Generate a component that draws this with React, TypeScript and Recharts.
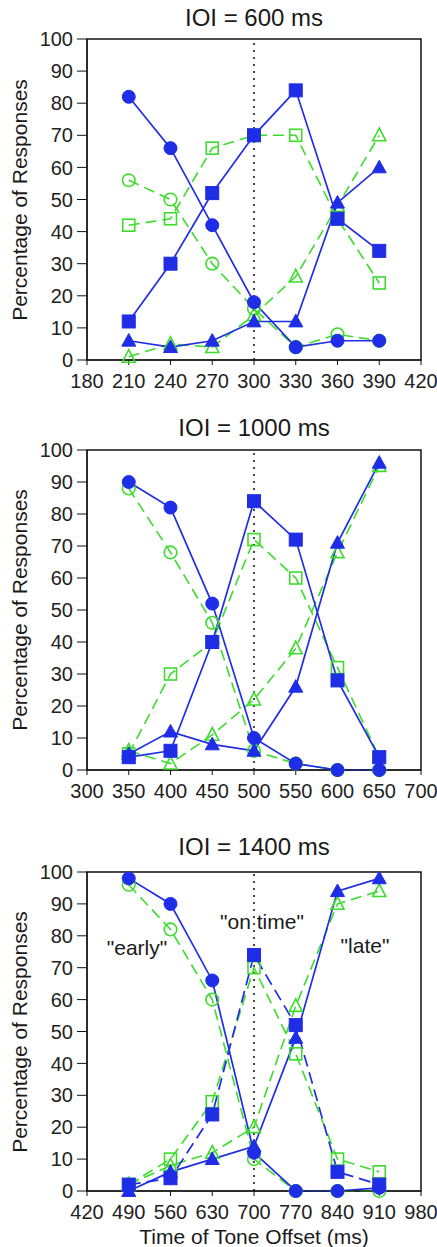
import React from 'react'
import { LineChart, Line, XAxis, YAxis, ReferenceLine, ReferenceArea } from 'recharts'

const BLUE = '#1f2de6'
const GREEN = '#3cdc2c'
const FONT = '"Liberation Sans", Arial, sans-serif'

const yTicks = [0, 10, 20, 30, 40, 50, 60, 70, 80, 90, 100]

// IOI = 600 ms
const offsets600 = [210, 240, 270, 300, 330, 360, 390]
const xTicks600 = [180, 210, 240, 270, 300, 330, 360, 390, 420]
const early600 = [82, 66, 42, 18, 4, 6, 6]
const onTime600 = [12, 30, 52, 70, 84, 44, 34]
const late600 = [6, 4, 6, 12, 12, 49, 60]
const early600Open = [56, 50, 30, 16, 4, 8, 6]
const onTime600Open = [42, 44, 66, 70, 70, 44, 24]
const late600Open = [1, 5, 4, 14, 26, 48, 70]

// IOI = 1000 ms
const offsets1000 = [350, 400, 450, 500, 550, 600, 650]
const xTicks1000 = [300, 350, 400, 450, 500, 550, 600, 650, 700]
const early1000 = [90, 82, 52, 10, 2, 0, 0]
const onTime1000 = [4, 6, 40, 84, 72, 28, 4]
const late1000 = [5, 12, 8, 6, 26, 71, 96]
const early1000Open = [88, 68, 46, 6, 2, 0, 0]
const onTime1000Open = [5, 30, 40, 72, 60, 32, 4]
const late1000Open = [6, 2, 11, 22, 38, 68, 95]

// IOI = 1400 ms
const offsets1400 = [490, 560, 630, 700, 770, 840, 910]
const xTicks1400 = [420, 490, 560, 630, 700, 770, 840, 910, 980]
const early1400 = [98, 90, 66, 12, 0, 0, 1]
const onTime1400 = [2, 4, 24, 74, 52, 6, 2]
const late1400 = [0, 6, 10, 14, 48, 94, 98]
const early1400Open = [96, 82, 60, 10, 0, 0, 0]
const onTime1400Open = [2, 10, 28, 70, 43, 10, 6]
const late1400Open = [2, 8, 12, 20, 58, 90, 94]

type Shape = 'circle' | 'square' | 'triangle'
type Series = { key: string; values: number[]; shape: Shape; open: boolean; dash?: string }

const makeDot = (shape: Shape, open: boolean) => (props: any) => {
  const { cx, cy, index } = props
  const color = open ? GREEN : BLUE
  const fill = open ? 'none' : color
  const sw = open ? 1.6 : 1
  const k = `d-${index}`
  if (cx == null || cy == null) return <g key={k} />
  if (shape === 'circle') {
    const r = open ? 6.3 : 6.5
    return <circle key={k} cx={cx} cy={cy} r={r} fill={fill} stroke={color} strokeWidth={sw} />
  }
  if (shape === 'square') {
    const s = open ? 12 : 13
    return <rect key={k} x={cx - s / 2} y={cy - s / 2} width={s} height={s} fill={fill} stroke={color} strokeWidth={sw} />
  }
  const h = open ? 12 : 12
  const w = open ? 13 : 14
  const pts = `${cx},${cy - h * 0.6} ${cx - w / 2},${cy + h * 0.45} ${cx + w / 2},${cy + h * 0.45}`
  return <polygon key={k} points={pts} fill={fill} stroke={color} strokeWidth={sw} />
}

interface PanelProps {
  top: number
  height: number
  marginTop: number
  marginBottom: number
  title: string
  titleY: number
  offsets: number[]
  xTicks: number[]
  center: number
  series: Series[]
}

const Panel: React.FC<PanelProps> = ({ top, height, marginTop, marginBottom, title, titleY, offsets, xTicks, center, series }) => {
  const rows = offsets.map((x, i) => {
    const row: Record<string, number> = { x }
    series.forEach((s) => {
      row[s.key] = s.values[i]
    })
    return row
  })
  const plotTop = marginTop
  const plotBottom = height - marginBottom - 35
  const labelY = (plotTop + plotBottom) / 2
  return (
    <div style={{ position: 'absolute', left: 0, top, width: 437, height }}>
      <div
        style={{
          position: 'absolute', left: 54, width: 400, top: titleY - top - 12, height: 24,
          lineHeight: '24px', fontSize: 24, textAlign: 'center', fontFamily: FONT, color: '#1a1a1a',
        }}
      >
        {title}
      </div>
      <div
        style={{
          position: 'absolute', left: 20 - 150, width: 300, top: labelY - 12, height: 24,
          lineHeight: '24px', fontSize: 21, textAlign: 'center', fontFamily: FONT, color: '#1a1a1a',
          transform: 'rotate(-90deg)',
        }}
      >
        Percentage of Responses
      </div>
      <LineChart
        width={437}
        height={height}
        data={rows}
        margin={{ top: marginTop, right: 16, left: 0, bottom: marginBottom }}
        style={{ position: 'absolute', left: 0, top: 0 }}
      >
        <XAxis
          dataKey="x"
          type="number"
          domain={[xTicks[0], xTicks[xTicks.length - 1]]}
          ticks={xTicks}
          interval={0}
          height={35}
          tickSize={5}
          tickMargin={9}
          stroke="#111"
          tick={{ fill: '#222', fontSize: 20, fontFamily: FONT }}
        />
        <YAxis
          type="number"
          domain={[0, 100]}
          ticks={yTicks}
          interval={0}
          width={87}
          tickSize={10}
          tickMargin={4}
          stroke="#111"
          tick={{ fill: '#222', fontSize: 20, fontFamily: FONT }}
        />
        <ReferenceArea
          x1={xTicks[0]}
          x2={xTicks[xTicks.length - 1]}
          y1={0}
          y2={100}
          fill="none"
          fillOpacity={0}
          stroke="#111"
          strokeWidth={1.5}
        />
        <ReferenceLine x={center} stroke="#333" strokeWidth={1.8} strokeDasharray="2 5" />
        {series.map((s) => (
          <Line
            key={s.key}
            dataKey={s.key}
            type="linear"
            stroke={s.open ? GREEN : BLUE}
            strokeWidth={s.open ? 1.6 : 1.7}
            strokeDasharray={s.dash}
            dot={makeDot(s.shape, s.open)}
            activeDot={false}
            isAnimationActive={false}
          />
        ))}
      </LineChart>
    </div>
  )
}

const build = (
  e: number[], o: number[], l: number[], eo: number[], oo: number[], lo: number[], blueSquareDash?: string,
): Series[] => [
  { key: 'earlyOpen', values: eo, shape: 'circle', open: true, dash: '11 6' },
  { key: 'onTimeOpen', values: oo, shape: 'square', open: true, dash: '11 6' },
  { key: 'lateOpen', values: lo, shape: 'triangle', open: true, dash: '11 6' },
  { key: 'early', values: e, shape: 'circle', open: false },
  { key: 'onTime', values: o, shape: 'square', open: false, dash: blueSquareDash },
  { key: 'late', values: l, shape: 'triangle', open: false },
]

const textStyle: React.CSSProperties = {
  position: 'absolute', height: 24, lineHeight: '24px', fontSize: 21, fontFamily: FONT,
  color: '#1a1a1a', textAlign: 'center', width: 160,
}

export default function App() {
  return (
    <div style={{ position: 'absolute', left: 0, top: 0, width: 437, height: 1247, background: '#fff', overflow: 'hidden' }}>
      <Panel
        top={0}
        height={400}
        marginTop={39}
        marginBottom={5}
        title="IOI = 600 ms"
        titleY={18}
        offsets={offsets600}
        xTicks={xTicks600}
        center={300}
        series={build(early600, onTime600, late600, early600Open, onTime600Open, late600Open)}
      />
      <Panel
        top={400}
        height={420}
        marginTop={50}
        marginBottom={15}
        title="IOI = 1000 ms"
        titleY={428}
        offsets={offsets1000}
        xTicks={xTicks1000}
        center={500}
        series={build(early1000, onTime1000, late1000, early1000Open, onTime1000Open, late1000Open)}
      />
      <Panel
        top={820}
        height={427}
        marginTop={52}
        marginBottom={21}
        title="IOI = 1400 ms"
        titleY={847}
        offsets={offsets1400}
        xTicks={xTicks1400}
        center={700}
        series={build(early1400, onTime1400, late1400, early1400Open, onTime1400Open, late1400Open, '12 6')}
      />
      <div style={{ ...textStyle, left: 137 - 80, top: 948 - 12 }}>"early"</div>
      <div style={{ ...textStyle, left: 262 - 80, top: 922 - 12 }}>"on time"</div>
      <div style={{ ...textStyle, left: 365 - 80, top: 946 - 12 }}>"late"</div>
      <div style={{ ...textStyle, width: 300, left: 254 - 150, top: 1237 - 12 }}>Time of Tone Offset (ms)</div>
    </div>
  )
}
